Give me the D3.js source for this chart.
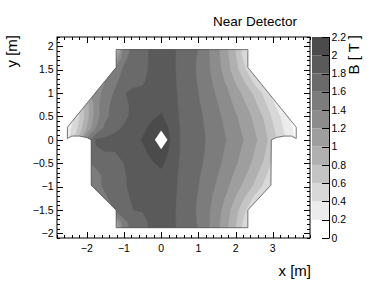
<!DOCTYPE html>
<html><head><meta charset="utf-8">
<script src="https://cdn.jsdelivr.net/npm/d3@7"></script>
<style>
body{margin:0;background:#fff}
svg{display:block}
text{font-family:"Liberation Sans",Arial,Helvetica,sans-serif;fill:#000}
</style>
</head><body>
<svg id="c" width="374" height="302"></svg>
<script>
// ---- data ----
const title = "Near Detector";
const xTitle = "x [m]";
const yTitle = "y [m]";
const zTitle = "B [ T ]";

// grid coordinates of the field map (m)
const xCols = [-2.75,-2.5,-2.25,-2,-1.75,-1.5,-1.25,-1,-0.75,-0.5,-0.25,0,0.25,0.5,0.75,1,1.25,1.5,1.75,2,2.25,2.5,2.75,3,3.25,3.5,3.75];
const yRows = [2,1.75,1.5,1.25,1,0.75,0.5,0.25,0,-0.25,-0.5,-0.75,-1,-1.25,-1.5,-1.75,-2];

// field |B| in T, one row per yRows entry, one column per xCols entry
const bField = [
 [1.0,1.0,1.0,1.0,1.0,1.0,0.3,1.4,1.66,1.72,1.84,1.9, 1.86,1.75,1.68,1.60,1.43,1.24,1.03,0.78,0.42,0.10,0,0,0,0,0],
 [1.0,1.0,1.0,1.0,1.0,1.0,1.0,1.55,1.68,1.73,1.84,1.9, 1.86,1.75,1.67,1.58,1.43,1.26,1.06,0.82,0.52,0.20,0,0,0,0,0],
 [1.0,1.0,1.0,1.0,1.0,1.2,1.45,1.63,1.7,1.74,1.84,1.9, 1.86,1.75,1.67,1.57,1.44,1.28,1.10,0.87,0.63,0.34,0.05,0,0,0,0],
 [1.0,1.0,1.0,1.0,1.2,1.4,1.55,1.68,1.75,1.78,1.85,1.9, 1.86,1.76,1.68,1.58,1.46,1.32,1.17,0.98,0.78,0.55,0.30,0.10,0,0,0],
 [0.8,0.8,0.9,1.1,1.3,1.48,1.62,1.79,1.84,1.83,1.86,1.9, 1.87,1.77,1.69,1.60,1.49,1.37,1.24,1.09,0.93,0.76,0.56,0.33,0.10,0,0],
 [0.3,0.4,0.6,0.9,1.3,1.55,1.65,1.75,1.84,1.86,1.9,1.93, 1.87,1.78,1.70,1.62,1.52,1.41,1.29,1.16,1.02,0.86,0.67,0.45,0.23,0.05,0],
 [0.1,0.2,0.5,0.9,1.3,1.55,1.68,1.76,1.84,1.88,1.95,2.03, 1.87,1.79,1.71,1.64,1.55,1.45,1.34,1.22,1.10,0.95,0.78,0.56,0.36,0.16,0],
 [0.1,0.3,0.6,1.0,1.4,1.65,1.76,1.82,1.86,1.93,2.08,2.15, 1.95,1.80,1.72,1.65,1.57,1.47,1.37,1.26,1.14,1.00,0.84,0.63,0.42,0.22,0.05],
 [0.1,0.3,0.8,1.45,1.82,1.84,1.85,1.87,1.92,2.02,2.15,2.3, 1.97,1.80,1.73,1.66,1.58,1.49,1.40,1.29,1.18,1.05,0.89,0.69,0.48,0.28,0.10],
 [1.5,1.5,1.5,1.6,1.78,1.8,1.8,1.83,1.86,1.93,2.08,2.15, 1.95,1.80,1.72,1.65,1.57,1.47,1.37,1.26,1.14,1.00,0.84,0.63,0.42,0.22,0.05],
 [1.5,1.5,1.5,1.55,1.68,1.72,1.74,1.8,1.85,1.88,1.97,2.06, 1.87,1.79,1.71,1.64,1.55,1.45,1.34,1.22,1.10,0.95,0.78,0.56,0.36,0.16,0],
 [1.4,1.4,1.4,1.4,1.5,1.68,1.72,1.79,1.83,1.84,1.88,1.93, 1.87,1.78,1.70,1.62,1.52,1.41,1.29,1.16,1.02,0.86,0.67,0.45,0.23,0.05,0],
 [1.4,1.4,1.4,1.4,1.5,1.66,1.75,1.79,1.82,1.83,1.85,1.9, 1.87,1.77,1.69,1.60,1.49,1.37,1.24,1.09,0.93,0.76,0.56,0.33,0.10,0,0],
 [1.4,1.4,1.4,1.4,1.4,1.55,1.72,1.78,1.81,1.82,1.85,1.9, 1.86,1.76,1.68,1.58,1.46,1.32,1.17,0.98,0.78,0.55,0.30,0.10,0,0,0],
 [1.4,1.4,1.4,1.4,1.4,1.4,1.6,1.74,1.8,1.81,1.84,1.9, 1.86,1.75,1.67,1.57,1.44,1.28,1.10,0.87,0.63,0.34,0.05,0,0,0,0],
 [1.0,1.0,1.0,1.0,1.0,1.0,1.0,1.55,1.68,1.75,1.84,1.9, 1.86,1.75,1.67,1.58,1.43,1.26,1.06,0.82,0.52,0.20,0,0,0,0,0],
 [0.8,0.8,0.8,0.8,0.8,0.8,0.3,1.4,1.66,1.74,1.84,1.9, 1.86,1.75,1.68,1.60,1.43,1.24,1.03,0.78,0.42,0.10,0,0,0,0,0]
];

// contour levels (T) and their grey fill
const levels = [0.2,0.4,0.6,0.8,1.0,1.2,1.4,1.6,1.8,2.0];
const bandColors = ["#ececec","#d8d8d8","#c4c4c4","#b0b0b0","#9e9e9e","#8c8c8c","#7c7c7c","#6a6a6a","#5a5a5a","#4b4b4b"];

// detector outline (m)
const outlineX = [-1.21,2.33,2.33,3.63,3.63,3.5,3.3,3.1,2.96,2.95,2.33,2.33,-1.21,-1.21,-1.88,-1.88,-2.0,-2.2,-2.4,-2.52,-2.52,-1.21];
const outlineY = [1.93,1.93,1.55,0.27,0.03,0.08,0.08,0.05,0.0,-0.97,-1.5,-1.88,-1.88,-1.5,-0.97,0.0,0.05,0.08,0.08,0.03,0.27,1.55];
// central beam hole (m)
const holeX = [0,0.17,0,-0.17];
const holeY = [0.2,0,-0.2,0];

const xTicks = [-2,-1,0,1,2,3];
const yTicks = [-2,-1.5,-1,-0.5,0,0.5,1,1.5,2];
const zTicks = [0,0.2,0.4,0.6,0.8,1,1.2,1.4,1.6,1.8,2,2.2];

// ---- drawing ----
const svg = d3.select("#c");
const X0 = 57, X1 = 310, Y0 = 37, Y1 = 238;
const xs = d3.scaleLinear().domain([-2.8, 4.0]).range([X0, X1]);
const ys = d3.scaleLinear().domain([-2.1, 2.2]).range([Y1, Y0]);
const zs = d3.scaleLinear().domain([0, 2.2]).range([Y1, Y0]);

const outline = outlineX.map((x, i) => [xs(x), ys(outlineY[i])]);
svg.append("clipPath").attr("id", "det")
  .append("path").attr("d", d3.line()(outline) + "Z");

const nx = xCols.length, ny = yRows.length;
const dx = xCols[1] - xCols[0], dy = yRows[1] - yRows[0];
const contours = d3.contours().size([nx, ny]).thresholds(levels)(bField.flat());
const proj = d3.geoTransform({
  point(u, v) { this.stream.point(xs(xCols[0] + dx * (u - 0.5)), ys(yRows[0] + dy * (v - 0.5))); }
});
const geo = d3.geoPath(proj);

const g = svg.append("g").attr("clip-path", "url(#det)");
g.selectAll("path").data(contours).join("path")
  .attr("d", geo)
  .attr("fill", (d, i) => bandColors[i])
  .attr("stroke", (d, i) => bandColors[i])
  .attr("stroke-width", 0.4);

// hole
svg.append("path")
  .attr("d", d3.line()(holeX.map((x, i) => [xs(x), ys(holeY[i])])) + "Z")
  .attr("fill", "#fff");

// outline
svg.append("path").attr("d", d3.line()(outline) + "Z")
  .attr("fill", "none").attr("stroke", "#555").attr("stroke-width", 0.8);

// frame
svg.append("rect").attr("x", X0).attr("y", Y0).attr("width", X1 - X0).attr("height", Y1 - Y0)
  .attr("fill", "none").attr("stroke", "#000").attr("stroke-width", 1);

const tk = svg.append("g").attr("stroke", "#000").attr("stroke-width", 1);
const xMinor = d3.range(-2.8, 4.0001, 0.2);
const yMinor = d3.range(-2.1, 2.2001, 0.1);
const isMajX = v => xTicks.some(t => Math.abs(t - v) < 1e-6);
const isMajY = v => yTicks.some(t => Math.abs(t - v) < 1e-6);
xMinor.forEach(v => {
  const L = isMajX(v) ? 6 : 3, px = Math.round(xs(v)) + 0.5;
  tk.append("line").attr("x1", px).attr("x2", px).attr("y1", Y1).attr("y2", Y1 - L);
  tk.append("line").attr("x1", px).attr("x2", px).attr("y1", Y0).attr("y2", Y0 + L);
});
yMinor.forEach(v => {
  const L = isMajY(v) ? 6 : 3, py = Math.round(ys(v)) + 0.5;
  tk.append("line").attr("x1", X0).attr("x2", X0 + L).attr("y1", py).attr("y2", py);
  tk.append("line").attr("x1", X1).attr("x2", X1 - L).attr("y1", py).attr("y2", py);
});

const fmt = d3.format("~g");
svg.append("g").selectAll("text").data(xTicks).join("text")
  .attr("x", d => xs(d)).attr("y", 252).attr("text-anchor", "middle")
  .attr("font-size", 10.5).text(d => fmt(d));
svg.append("g").selectAll("text").data(yTicks).join("text")
  .attr("x", 53.5).attr("y", d => ys(d)).attr("dy", "0.35em").attr("text-anchor", "end")
  .attr("font-size", 10.5).text(d => fmt(d));

// colour bar
const CB0 = 312, CB1 = 329;
svg.append("g").selectAll("rect").data(levels).join("rect")
  .attr("x", CB0).attr("width", CB1 - CB0)
  .attr("y", d => zs(d + 0.2)).attr("height", d => zs(d) - zs(d + 0.2))
  .attr("fill", (d, i) => bandColors[i]);
svg.append("line").attr("x1", CB1 + 0.5).attr("x2", CB1 + 0.5).attr("y1", Y0).attr("y2", Y1)
  .attr("stroke", "#000").attr("stroke-width", 1);
svg.append("g").selectAll("line").data(zTicks).join("line")
  .attr("x1", CB1 - 7).attr("x2", CB1 + 0.5)
  .attr("y1", d => Math.round(zs(d)) + 0.5).attr("y2", d => Math.round(zs(d)) + 0.5)
  .attr("stroke", "#000").attr("stroke-width", 1);
svg.append("g").selectAll("text").data(zTicks).join("text")
  .attr("x", 331.5).attr("y", d => zs(d)).attr("dy", "0.35em")
  .attr("font-size", 10.5).text(d => fmt(d));

// titles
svg.append("text").attr("x", 255).attr("y", 26).attr("text-anchor", "middle")
  .attr("font-size", 13.5).text(title);
svg.append("text").attr("x", 311).attr("y", 276).attr("text-anchor", "end")
  .attr("font-size", 15).text(xTitle);
svg.append("text").attr("transform", "translate(17,35) rotate(-90)").attr("text-anchor", "end")
  .attr("font-size", 15).text(yTitle);
svg.append("text").attr("transform", "translate(359,35) rotate(-90)").attr("text-anchor", "end")
  .attr("font-size", 15).text(zTitle);
</script>
</body></html>
